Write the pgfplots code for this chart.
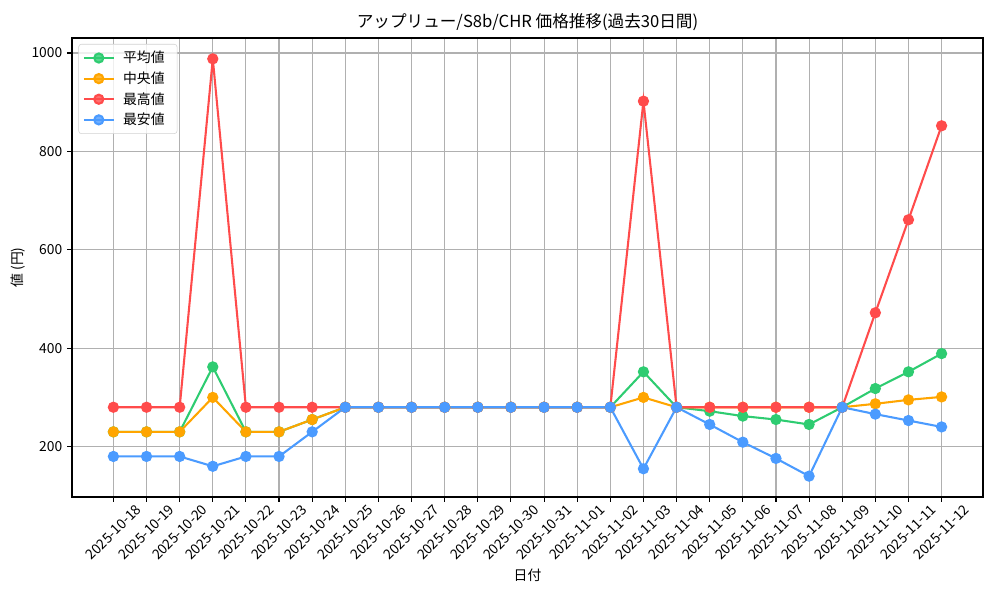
\documentclass[border=0pt]{standalone}
\usepackage{fontspec}
\setmainfont{Noto Sans CJK JP}
\usepackage{pgfplots}
\usepackage{pgfplotstable}
\pgfplotsset{compat=1.18}

\definecolor{cavg}{HTML}{2ECC71}
\definecolor{cmed}{HTML}{FFA500}
\definecolor{cmax}{HTML}{FF4B4B}
\definecolor{cmin}{HTML}{4B9BFF}
\definecolor{cgrid}{HTML}{B0B0B0}

\pgfplotstableread{
x avg med max min
0 230 230 280 180
1 230 230 280 180
2 230 230 280 180
3 362 300 988 160
4 230 230 280 180
5 230 230 280 180
6 255 255 280 230
7 280 280 280 280
8 280 280 280 280
9 280 280 280 280
10 280 280 280 280
11 280 280 280 280
12 280 280 280 280
13 280 280 280 280
14 280 280 280 280
15 280 280 280 280
16 352 300 902 155
17 280 280 280 280
18 272 280 280 245
19 262 280 280 209
20 255 280 280 176
21 245 280 280 140
22 280 280 280 280
23 318 287 472 266
24 352 295 661 253
25 389 301 852 240
}\prices

\begin{document}
\fontsize{10}{12}\selectfont
\begin{tikzpicture}
\begin{axis}[
    scale only axis,
    width=9.11in, height=4.59in,
    xmin=-1.25, xmax=26.25,
    ymin=97.6, ymax=1030.4,
    xtick={0,...,25},
    xticklabels={2025-10-18,2025-10-19,2025-10-20,2025-10-21,2025-10-22,2025-10-23,2025-10-24,2025-10-25,2025-10-26,2025-10-27,2025-10-28,2025-10-29,2025-10-30,2025-10-31,2025-11-01,2025-11-02,2025-11-03,2025-11-04,2025-11-05,2025-11-06,2025-11-07,2025-11-08,2025-11-09,2025-11-10,2025-11-11,2025-11-12},
    ytick={200,400,600,800,1000},
    xtick pos=bottom, ytick pos=left,
    tick align=outside,
    major tick length=3.5pt,
    every tick/.style={black, line width=0.8pt},
    axis line style={line width=0.8pt},
    grid=major,
    major grid style={cgrid, line width=0.8pt},
    xticklabel style={yshift=-22pt, rotate=45, anchor=center, inner sep=0pt, font=\fontsize{10}{12}\selectfont},
    yticklabel style={font=\fontsize{10}{12}\selectfont},
    /pgf/number format/assume math mode=true,
    /pgf/number format/1000 sep={},
    title={アップリュー/S8b/CHR 価格推移(過去30日間)},
    title style={font=\fontsize{12}{14}\selectfont, yshift=-4pt},
    xlabel={日付},
    xlabel style={yshift=-2pt},
    ylabel={値 (円)},
    ylabel style={yshift=-2pt},
    legend style={at={(0.007,0.987)}, anchor=north west, draw=gray!35,
        rounded corners=2pt, fill=white, fill opacity=0.8, text opacity=1,
        font=\fontsize{10}{12}\selectfont, row sep=1pt, inner sep=3pt,
        nodes={inner xsep=6pt}},
    legend cell align=left,
    legend image code/.code={
        \draw[mark repeat=2, mark phase=2] plot coordinates {(0cm,0cm) (0.38cm,0cm) (0.76cm,0cm)};
    },
    every axis plot/.append style={line width=1.5pt, mark=*, mark size=3.3pt},
]
\addplot[color=cavg, mark options={fill=cavg, draw=cavg}] table[x=x, y=avg] {\prices};
\addlegendentry{平均値}
\addplot[color=cmed, mark options={fill=cmed, draw=cmed}] table[x=x, y=med] {\prices};
\addlegendentry{中央値}
\addplot[color=cmax, mark options={fill=cmax, draw=cmax}] table[x=x, y=max] {\prices};
\addlegendentry{最高値}
\addplot[color=cmin, mark options={fill=cmin, draw=cmin}] table[x=x, y=min] {\prices};
\addlegendentry{最安値}
\coordinate (sw) at (rel axis cs:0,0);
\coordinate (ne) at (rel axis cs:1,1);
\end{axis}
\pgfresetboundingbox
\path ([shift={(-0.72in,-1.03in)}]sw) rectangle ([shift={(0.17in,0.38in)}]ne);
\end{tikzpicture}
\end{document}
